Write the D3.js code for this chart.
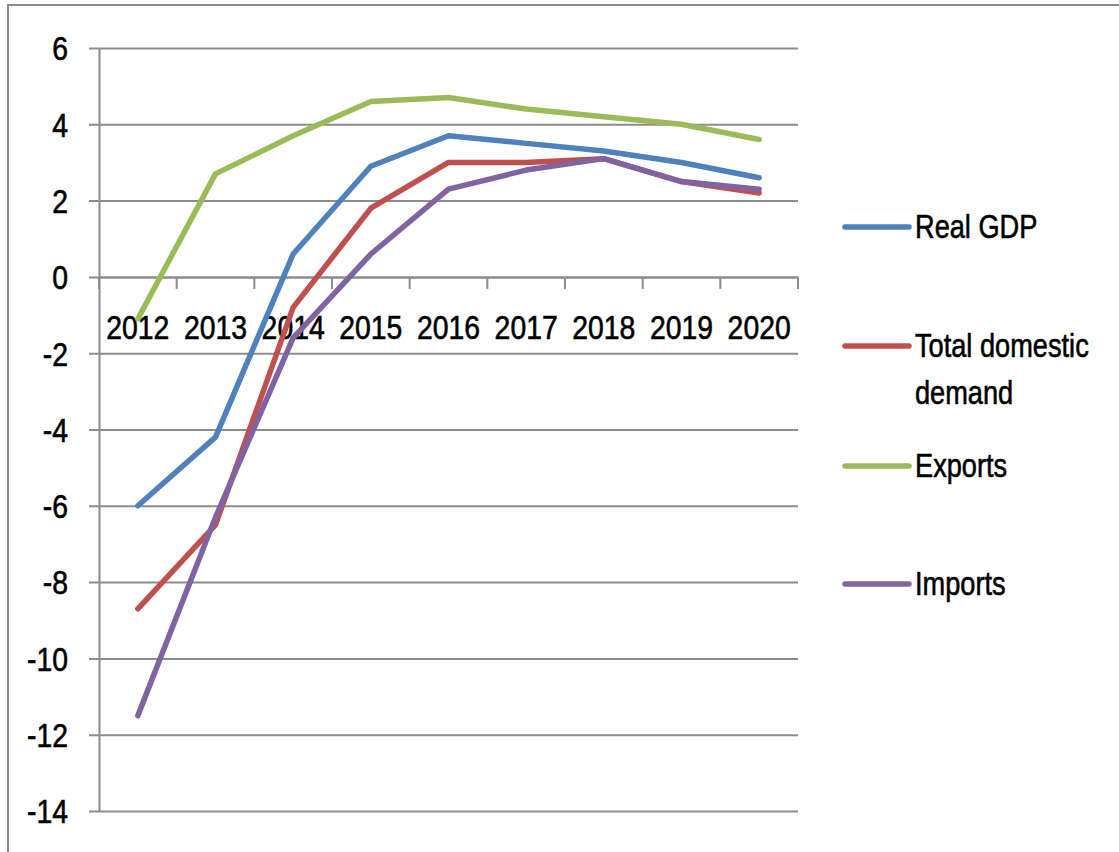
<!DOCTYPE html>
<html>
<head>
<meta charset="utf-8">
<script src="https://cdn.jsdelivr.net/npm/d3@7/dist/d3.min.js"></script>
<style>
  html, body { margin: 0; padding: 0; background: #fff; }
  svg { display: block; }
  text { font-family: 'Liberation Sans', Arial, sans-serif; fill: #000; stroke: #000; stroke-width: 0.6px; }
</style>
</head>
<body>
<svg id="chart" width="1119" height="852"></svg>
<script>
// Annual growth rates, %
const years = ["2012", "2013", "2014", "2015", "2016", "2017", "2018", "2019", "2020"];
const realGDP = [-6.0, -4.2, 0.6, 2.9, 3.7, 3.5, 3.3, 3.0, 2.6];
const domesticDemand = [-8.7, -6.5, -0.8, 1.8, 3.0, 3.0, 3.1, 2.5, 2.2];
const exportsGrowth = [-1.1, 2.7, 3.7, 4.6, 4.7, 4.4, 4.2, 4.0, 3.6];
const importsGrowth = [-11.5, -6.3, -1.6, 0.6, 2.3, 2.8, 3.1, 2.5, 2.3];
const yTicks = [6, 4, 2, 0, -2, -4, -6, -8, -10, -12, -14];
const seriesNames = ["Real GDP", "Total domestic demand", "Exports", "Imports"];

const seriesList = [
  { name: seriesNames[0], values: realGDP, color: "#4F81BD" },
  { name: seriesNames[1], values: domesticDemand, color: "#C0504D" },
  { name: seriesNames[2], values: exportsGrowth, color: "#9BBB59" },
  { name: seriesNames[3], values: importsGrowth, color: "#8064A2" }
];

const svg = d3.select("#chart");
const gridColor = "#8c8c8c";
const axisSquash = 0.86;   // narrow the axis lettering horizontally
const legendSquash = 0.8;

// outer chart frame (runs past the page edges on the right and bottom)
svg.append("rect")
  .attr("x", 8).attr("y", 5)
  .attr("width", 1200).attr("height", 900)
  .attr("fill", "none")
  .attr("stroke", gridColor)
  .attr("stroke-width", 2);

const plotLeft = 99, plotRight = 798;
const x = d3.scaleBand().domain(years).range([plotLeft, plotRight]);
const y = d3.scaleLinear().domain([-14, 6]).range([811, 48]);

// horizontal gridlines with left tick marks and value labels
const yAxis = d3.axisLeft(y)
  .tickValues(yTicks)
  .tickSize(-(plotRight - plotLeft))
  .tickSizeOuter(0)
  .tickPadding(0)
  .tickFormat(d3.format("d"));

const gy = svg.append("g")
  .attr("transform", `translate(${plotLeft},0)`)
  .call(yAxis);
gy.select(".domain").attr("stroke", gridColor).attr("stroke-width", 2);
gy.selectAll(".tick line")
  .attr("x1", -10)
  .attr("stroke", gridColor)
  .attr("stroke-width", 2);
gy.selectAll(".tick text")
  .attr("x", -31 / axisSquash)
  .attr("dy", "0.36em")
  .attr("font-size", 33)
  .attr("text-anchor", "end")
  .attr("transform", `scale(${axisSquash},1)`)
  .text(d => d < 0 ? "-" + Math.abs(d) : d);

// category axis sitting on the zero line
const xAxis = d3.axisBottom(x)
  .tickSize(0)
  .tickPadding(0)
  .tickSizeOuter(0);
const gx = svg.append("g")
  .attr("transform", `translate(0,${y(0)})`)
  .call(xAxis);
gx.select(".domain").attr("stroke", gridColor).attr("stroke-width", 2);
gx.selectAll(".tick text")
  .attr("y", 62)
  .attr("dy", 0)
  .attr("font-size", 33)
  .attr("transform", `scale(${axisSquash},1)`);

// category boundary tick marks
const boundaries = years.map(yr => x(yr)).concat([x(years[years.length - 1]) + x.bandwidth()]);
gx.selectAll("line.boundary")
  .data(boundaries)
  .join("line")
  .attr("class", "boundary")
  .attr("x1", d => d).attr("x2", d => d)
  .attr("y1", 0).attr("y2", 12)
  .attr("stroke", gridColor)
  .attr("stroke-width", 2);

// series lines
const line = d3.line()
  .x((d, i) => x(years[i]) + x.bandwidth() / 2)
  .y(d => y(d));

svg.append("g")
  .selectAll("path")
  .data(seriesList)
  .join("path")
  .attr("d", s => line(s.values))
  .attr("fill", "none")
  .attr("stroke", s => s.color)
  .attr("stroke-width", 5.5)
  .attr("stroke-linejoin", "round")
  .attr("stroke-linecap", "round");

// legend
const legendY = [227, 346, 466, 584];
const legend = svg.append("g");
seriesList.forEach((s, i) => {
  const g = legend.append("g").attr("transform", `translate(845,${legendY[i]})`);
  g.append("line")
    .attr("x1", 0).attr("x2", 64)
    .attr("y1", 0).attr("y2", 0)
    .attr("stroke", s.color)
    .attr("stroke-width", 5.5)
    .attr("stroke-linecap", "round");
  const words = s.name === "Total domestic demand" ? ["Total domestic", "demand"] : [s.name];
  const t = g.append("text")
    .attr("transform", `translate(70,11) scale(${legendSquash},1)`)
    .attr("font-size", 34);
  words.forEach((w, k) => {
    t.append("tspan").attr("x", 0).attr("dy", k === 0 ? 0 : 47).text(w);
  });
});
</script>
</body>
</html>
